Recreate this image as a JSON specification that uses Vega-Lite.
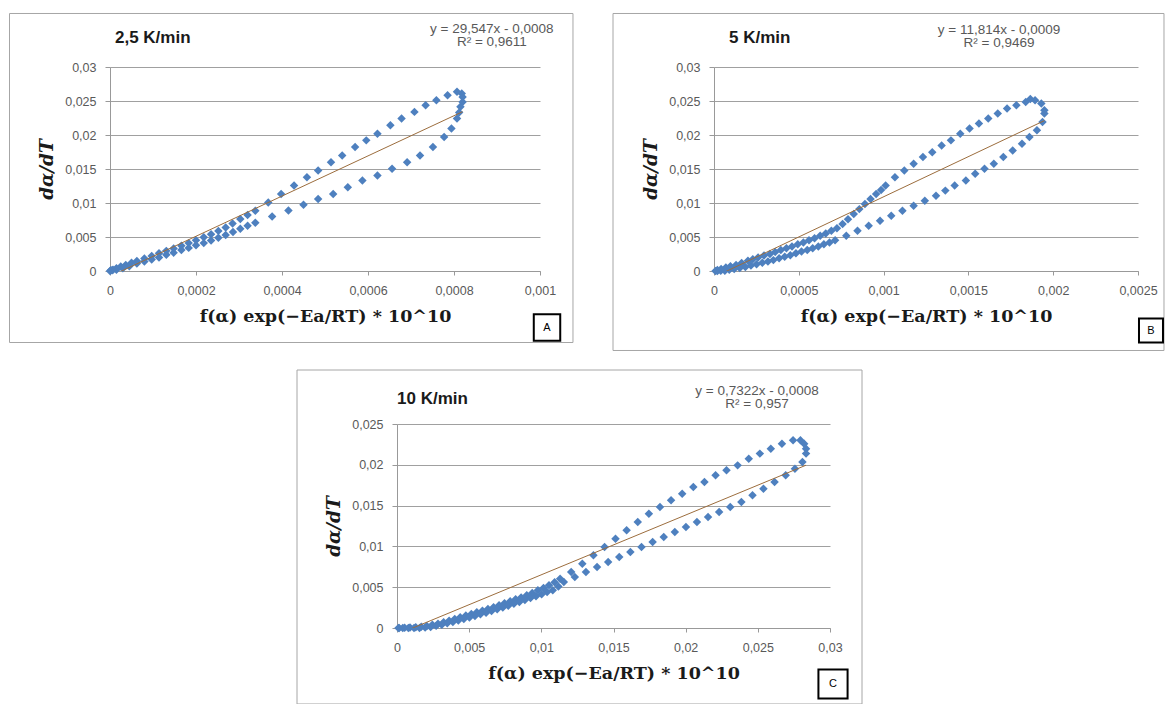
{
"$schema": "https://vega.github.io/schema/vega-lite/v6.json",
"background": "white",
"padding": {"left": 9, "top": 12, "right": 0, "bottom": 0},
"spacing": 18,
"config": {
 "view": {"stroke": null},
 "font": "Liberation Sans",
 "axis": {"labelFont": "Liberation Sans", "labelFontSize": 12.5, "labelColor": "#595959", "domainColor": "#999999", "tickColor": "#999999", "gridColor": "#a0a0a0", "titleFont": "DejaVu Serif", "titleFontSize": 17.5, "titleFontWeight": "bold", "titleColor": "#1a1a1a", "labelFlush": false, "labelOverlap": false},
 "axisX": {"grid": false, "tickSize": 4, "labelPadding": 9, "titlePadding": 11},
 "axisY": {"grid": true, "tickSize": 5, "labelPadding": 9, "titlePadding": 8, "titleFontStyle": "italic", "titleFontSize": 18.5}
},
"datasets": {
 "A": [
  {"x":0.000818,"y":0.0261},{"x":0.000807,"y":0.02635},{"x":0.000785,"y":0.02586},{"x":0.000759,"y":0.02512},{"x":0.000734,"y":0.02438},{"x":0.000708,"y":0.0234},{"x":0.000678,"y":0.02242},{"x":0.000652,"y":0.02143},{"x":0.000622,"y":0.0202},{"x":0.000596,"y":0.01921},{"x":0.00057,"y":0.01822},{"x":0.00054,"y":0.017},{"x":0.000514,"y":0.016},{"x":0.000484,"y":0.01478},{"x":0.000458,"y":0.01379},{"x":0.000428,"y":0.01256},{"x":0.000398,"y":0.01133},{"x":0.000368,"y":0.01009},{"x":0.000338,"y":0.00887},{"x":0.00032,"y":0.00825},{"x":0.000303,"y":0.00764},{"x":0.000285,"y":0.007},{"x":0.000269,"y":0.0064},{"x":0.000252,"y":0.0059},{"x":0.000235,"y":0.00542},{"x":0.000218,"y":0.00497},{"x":0.0002,"y":0.00453},{"x":0.000183,"y":0.0041},{"x":0.000166,"y":0.0037},{"x":0.000148,"y":0.0033},{"x":0.000131,"y":0.00296},{"x":0.000114,"y":0.0026},{"x":0.000097,"y":0.00222},{"x":0.00008,"y":0.00185},{"x":0.0000625,"y":0.00148},{"x":0.00005,"y":0.0012},{"x":0.0000367,"y":0.00089},{"x":0.000025,"y":0.00065},{"x":0.000015,"y":0.0004},{"x":0.000007,"y":0.0002},{"x":0.000002,"y":0.0001},
  {"x":0.00082,"y":0.0256},{"x":0.00082,"y":0.02485},{"x":0.000815,"y":0.02414},{"x":0.000812,"y":0.0233},{"x":0.000807,"y":0.02242},{"x":0.000794,"y":0.02094},{"x":0.000777,"y":0.0197},{"x":0.000751,"y":0.01822},{"x":0.000721,"y":0.017},{"x":0.000691,"y":0.016},{"x":0.000656,"y":0.01503},{"x":0.000622,"y":0.01404},{"x":0.000587,"y":0.0133},{"x":0.000553,"y":0.01231},{"x":0.000519,"y":0.01133},{"x":0.000484,"y":0.0106},{"x":0.00045,"y":0.00975},{"x":0.000415,"y":0.0089},{"x":0.000377,"y":0.008},{"x":0.000338,"y":0.0071},{"x":0.00032,"y":0.00665},{"x":0.000303,"y":0.0062},{"x":0.000286,"y":0.00575},{"x":0.000269,"y":0.0053},{"x":0.000252,"y":0.0049},{"x":0.000235,"y":0.0045},{"x":0.000218,"y":0.0041},{"x":0.0002,"y":0.0038},{"x":0.000183,"y":0.0034},{"x":0.000166,"y":0.0031},{"x":0.000148,"y":0.0027},{"x":0.000131,"y":0.0024},{"x":0.000114,"y":0.002},{"x":0.000097,"y":0.0017},{"x":0.00008,"y":0.0014},{"x":0.0000625,"y":0.0011},{"x":0.000045,"y":0.0007},{"x":0.00003,"y":0.0004},{"x":0.000015,"y":0.0002},{"x":0.000005,"y":0.0001},{"x":0,"y":0}
 ],
 "At": [{"x":0,"y":-0.0008},{"x":0.00082,"y":0.023429}],
 "B": [
  {"x":0.00193,"y":0.02463},{"x":0.001893,"y":0.02512},{"x":0.001865,"y":0.0253},{"x":0.001838,"y":0.02487},{"x":0.001783,"y":0.02438},{"x":0.001728,"y":0.02389},{"x":0.001673,"y":0.02315},{"x":0.001617,"y":0.02242},{"x":0.001562,"y":0.02168},{"x":0.001507,"y":0.02094},{"x":0.001452,"y":0.0202},{"x":0.001397,"y":0.01921},{"x":0.001342,"y":0.01847},{"x":0.001287,"y":0.01748},{"x":0.001232,"y":0.01675},{"x":0.001177,"y":0.01577},{"x":0.001122,"y":0.01478},{"x":0.001067,"y":0.0138},{"x":0.001012,"y":0.01256},{"x":0.000985,"y":0.0119},{"x":0.000956,"y":0.01133},{"x":0.000923,"y":0.0106},{"x":0.00089,"y":0.00985},{"x":0.000857,"y":0.0091},{"x":0.000824,"y":0.00838},{"x":0.00079,"y":0.0076},{"x":0.000758,"y":0.0069},{"x":0.000725,"y":0.0063},{"x":0.000692,"y":0.00591},{"x":0.000659,"y":0.0055},{"x":0.000626,"y":0.00517},{"x":0.000593,"y":0.0048},{"x":0.00056,"y":0.00453},{"x":0.000527,"y":0.0042},{"x":0.000494,"y":0.00394},{"x":0.00046,"y":0.0036},{"x":0.000427,"y":0.00335},{"x":0.000394,"y":0.0031},{"x":0.000361,"y":0.00281},{"x":0.00033,"y":0.0025},{"x":0.000295,"y":0.00227},{"x":0.00026,"y":0.002},{"x":0.000229,"y":0.00172},{"x":0.0002,"y":0.0015},{"x":0.000163,"y":0.00118},{"x":0.00013,"y":0.0009},{"x":0.000097,"y":0.00069},{"x":0.00007,"y":0.0005},{"x":0.000042,"y":0.0003},{"x":0.00002,"y":0.00015},{"x":0.000009,"y":0},
  {"x":0.001948,"y":0.02364},{"x":0.001948,"y":0.02315},{"x":0.001937,"y":0.02192},{"x":0.001904,"y":0.02069},{"x":0.00186,"y":0.0197},{"x":0.001816,"y":0.01872},{"x":0.001761,"y":0.01773},{"x":0.001706,"y":0.01675},{"x":0.00165,"y":0.01577},{"x":0.001595,"y":0.01503},{"x":0.00154,"y":0.01429},{"x":0.001485,"y":0.0133},{"x":0.001419,"y":0.01256},{"x":0.001364,"y":0.01182},{"x":0.001309,"y":0.01108},{"x":0.001243,"y":0.01034},{"x":0.001177,"y":0.00961},{"x":0.001111,"y":0.00887},{"x":0.001045,"y":0.00813},{"x":0.000979,"y":0.00739},{"x":0.000912,"y":0.00665},{"x":0.000846,"y":0.00591},{"x":0.00078,"y":0.00517},{"x":0.000714,"y":0.00453},{"x":0.000681,"y":0.0042},{"x":0.000648,"y":0.00394},{"x":0.000615,"y":0.0036},{"x":0.000582,"y":0.00335},{"x":0.00055,"y":0.0031},{"x":0.000516,"y":0.00286},{"x":0.000483,"y":0.0026},{"x":0.00045,"y":0.00232},{"x":0.000417,"y":0.0021},{"x":0.000384,"y":0.00187},{"x":0.00035,"y":0.0016},{"x":0.000318,"y":0.00138},{"x":0.000285,"y":0.0012},{"x":0.000251,"y":0.00099},{"x":0.000218,"y":0.0008},{"x":0.000185,"y":0.00059},{"x":0.000152,"y":0.00045},{"x":0.000119,"y":0.0003},{"x":0.00009,"y":0.00018},{"x":0.000064,"y":0.00005},{"x":0.00004,"y":0.00002},{"x":0.00002,"y":0}
 ],
 "Bt": [{"x":0,"y":-0.0009},{"x":0.001948,"y":0.022114}],
 "C": [
  {"x":0.02821,"y":0.02259},{"x":0.02795,"y":0.023},{"x":0.02744,"y":0.023},{"x":0.02667,"y":0.02259},{"x":0.0259,"y":0.02198},{"x":0.02514,"y":0.02137},{"x":0.02437,"y":0.02075},{"x":0.0236,"y":0.01993},{"x":0.02283,"y":0.01932},{"x":0.02207,"y":0.01871},{"x":0.0213,"y":0.01789},{"x":0.02053,"y":0.01728},{"x":0.01976,"y":0.01646},{"x":0.01899,"y":0.01565},{"x":0.01822,"y":0.01483},{"x":0.01745,"y":0.01401},{"x":0.01668,"y":0.01299},{"x":0.01591,"y":0.01197},{"x":0.01514,"y":0.01094},{"x":0.01438,"y":0.00993},{"x":0.01361,"y":0.00891},{"x":0.01284,"y":0.00788},{"x":0.01207,"y":0.00686},{"x":0.0113,"y":0.00604},
  {"x":0.01092,"y":0.0056},{"x":0.01053,"y":0.00523},{"x":0.01015,"y":0.0049},{"x":0.00976,"y":0.00462},{"x":0.00937,"y":0.0043},{"x":0.00899,"y":0.00401},{"x":0.0086,"y":0.00375},{"x":0.00822,"y":0.00352},{"x":0.00784,"y":0.00328},{"x":0.00745,"y":0.00303},{"x":0.00707,"y":0.0028},{"x":0.00669,"y":0.00254},{"x":0.0063,"y":0.00232},{"x":0.00592,"y":0.00212},{"x":0.00553,"y":0.00192},{"x":0.00515,"y":0.00172},{"x":0.00477,"y":0.00152},{"x":0.00438,"y":0.00131},{"x":0.004,"y":0.0011},{"x":0.00361,"y":0.0009},{"x":0.00323,"y":0.0007},{"x":0.00284,"y":0.00053},{"x":0.00245,"y":0.0004},{"x":0.00207,"y":0.00025},{"x":0.00168,"y":0.00015},{"x":0.0013,"y":0.0001},{"x":0.0009,"y":0.00005},{"x":0.00053,"y":0.00002},{"x":0.00015,"y":0},
  {"x":0.02834,"y":0.02198},{"x":0.02834,"y":0.02137},{"x":0.02809,"y":0.02034},{"x":0.02757,"y":0.01952},{"x":0.02693,"y":0.01871},{"x":0.02616,"y":0.01789},{"x":0.02539,"y":0.01707},{"x":0.02463,"y":0.01626},{"x":0.02386,"y":0.01544},{"x":0.02309,"y":0.01483},{"x":0.02232,"y":0.01422},{"x":0.02155,"y":0.0136},{"x":0.02078,"y":0.01299},{"x":0.02002,"y":0.01238},{"x":0.01925,"y":0.01176},{"x":0.01848,"y":0.01115},{"x":0.01771,"y":0.01054},{"x":0.01694,"y":0.00993},{"x":0.01617,"y":0.00931},{"x":0.0154,"y":0.0087},{"x":0.01463,"y":0.00809},{"x":0.01386,"y":0.00748},{"x":0.01309,"y":0.00686},{"x":0.01232,"y":0.00625},{"x":0.01156,"y":0.00564},
  {"x":0.01118,"y":0.0051},{"x":0.01079,"y":0.00462},{"x":0.0104,"y":0.0044},{"x":0.01002,"y":0.00413},{"x":0.00963,"y":0.0039},{"x":0.00925,"y":0.00368},{"x":0.00886,"y":0.00343},{"x":0.00848,"y":0.00319},{"x":0.0081,"y":0.00296},{"x":0.00771,"y":0.00273},{"x":0.00733,"y":0.0025},{"x":0.00694,"y":0.00229},{"x":0.00655,"y":0.00208},{"x":0.00617,"y":0.00188},{"x":0.00578,"y":0.00167},{"x":0.0054,"y":0.00147},{"x":0.00502,"y":0.00128},{"x":0.00463,"y":0.0011},{"x":0.00425,"y":0.00092},{"x":0.00387,"y":0.00074},{"x":0.00348,"y":0.00057},{"x":0.0031,"y":0.00041},{"x":0.00271,"y":0.00026},{"x":0.00233,"y":0.00012},{"x":0.00195,"y":0.00005},{"x":0.00156,"y":0},{"x":0.00118,"y":0},{"x":0.00079,"y":0},{"x":0.0004,"y":0},{"x":0.0001,"y":0}
 ],
 "Ct": [{"x":0,"y":-0.0008},{"x":0.02834,"y":0.019951}]
},
"vconcat": [
 {"hconcat": [
  {"width": 430, "height": 204,
   "resolve": {"axis": {"x": "independent", "y": "independent"}},
   "layer": [
    {"data": {"values": [{}]}, "mark": {"type": "rect", "filled": false, "color": "#a6a6a6", "strokeWidth": 1},
     "encoding": {"x": {"datum": -0.00023372, "type": "quantitative", "scale": {"domain": [0, 0.001], "nice": false}, "axis": null}, "x2": {"datum": 0.0010767},
                  "y": {"datum": 0.037868, "type": "quantitative", "scale": {"domain": [0, 0.03], "nice": false}, "axis": null}, "y2": {"datum": -0.010515}}},
    {"data": {"name": "A"}, "mark": {"type": "point", "shape": "diamond", "filled": true, "size": 72, "color": "#4e80bf", "opacity": 1},
     "encoding": {"x": {"field": "x", "type": "quantitative", "scale": {"domain": [0, 0.001], "nice": false}, "axis": {"orient": "bottom", "grid": false, "title": "f(α) exp(−Ea/RT) * 10^10", "values": [0, 0.0002, 0.0004, 0.0006, 0.0008, 0.001], "labelExpr": "replace(format(datum.value, '~g'), '.', ',')"}},
                  "y": {"field": "y", "type": "quantitative", "scale": {"domain": [0, 0.03], "nice": false}, "axis": {"orient": "left", "grid": true, "title": "dα/dT", "values": [0, 0.005, 0.01, 0.015, 0.02, 0.025, 0.03], "labelExpr": "replace(format(datum.value, '~g'), '.', ',')"}}}},
    {"data": {"name": "At"}, "mark": {"type": "line", "color": "#9c6d3d", "strokeWidth": 1, "clip": true},
     "encoding": {"x": {"field": "x", "type": "quantitative", "axis": null}, "y": {"field": "y", "type": "quantitative", "axis": null}}},
    {"data": {"values": [{}]}, "mark": {"type": "text", "text": "2,5 K/min", "fontSize": 17, "fontWeight": "bold", "color": "#1a1a1a", "baseline": "middle", "align": "left"},
     "encoding": {"x": {"datum": 0.0000116, "type": "quantitative", "axis": null}, "y": {"datum": 0.034265, "type": "quantitative", "axis": null}}},
    {"data": {"values": [{}]}, "mark": {"type": "text", "text": ["y = 29,547x - 0,0008", "R² = 0,9611"], "fontSize": 13.5, "color": "#595959", "lineHeight": 13, "baseline": "middle", "align": "center"},
     "encoding": {"x": {"datum": 0.000888, "type": "quantitative", "axis": null}, "y": {"datum": 0.03559, "type": "quantitative", "axis": null}}},
    {"data": {"values": [{}]}, "mark": {"type": "point", "shape": "square", "filled": false, "color": "#000000", "strokeWidth": 2, "size": 700, "opacity": 1},
     "encoding": {"x": {"datum": 0.0010163, "type": "quantitative", "axis": null}, "y": {"datum": -0.008309, "type": "quantitative", "axis": null}}},
    {"data": {"values": [{}]}, "mark": {"type": "text", "text": "A", "fontSize": 11, "color": "#000000", "baseline": "middle", "align": "center"},
     "encoding": {"x": {"datum": 0.0010163, "type": "quantitative", "axis": null}, "y": {"datum": -0.008309, "type": "quantitative", "axis": null}}}
   ]},
  {"width": 424, "height": 204,
   "resolve": {"axis": {"x": "independent", "y": "independent"}},
   "layer": [
    {"data": {"values": [{}]}, "mark": {"type": "rect", "filled": false, "color": "#a6a6a6", "strokeWidth": 1},
     "encoding": {"x": {"datum": -0.0005955, "type": "quantitative", "scale": {"domain": [0, 0.0025], "nice": false}, "axis": null}, "x2": {"datum": 0.0026533},
                  "y": {"datum": 0.037868, "type": "quantitative", "scale": {"domain": [0, 0.03], "nice": false}, "axis": null}, "y2": {"datum": -0.011691}}},
    {"data": {"name": "B"}, "mark": {"type": "point", "shape": "diamond", "filled": true, "size": 72, "color": "#4e80bf", "opacity": 1},
     "encoding": {"x": {"field": "x", "type": "quantitative", "scale": {"domain": [0, 0.0025], "nice": false}, "axis": {"orient": "bottom", "grid": false, "title": "f(α) exp(−Ea/RT) * 10^10", "values": [0, 0.0005, 0.001, 0.0015, 0.002, 0.0025], "labelExpr": "replace(format(datum.value, '~g'), '.', ',')"}},
                  "y": {"field": "y", "type": "quantitative", "scale": {"domain": [0, 0.03], "nice": false}, "axis": {"orient": "left", "grid": true, "title": "dα/dT", "values": [0, 0.005, 0.01, 0.015, 0.02, 0.025, 0.03], "labelExpr": "replace(format(datum.value, '~g'), '.', ',')"}}}},
    {"data": {"name": "Bt"}, "mark": {"type": "line", "color": "#9c6d3d", "strokeWidth": 1, "clip": true},
     "encoding": {"x": {"field": "x", "type": "quantitative", "axis": null}, "y": {"field": "y", "type": "quantitative", "axis": null}}},
    {"data": {"values": [{}]}, "mark": {"type": "text", "text": "5 K/min", "fontSize": 17, "fontWeight": "bold", "color": "#1a1a1a", "baseline": "middle", "align": "left"},
     "encoding": {"x": {"datum": 0.0000884, "type": "quantitative", "axis": null}, "y": {"datum": 0.034265, "type": "quantitative", "axis": null}}},
    {"data": {"values": [{}]}, "mark": {"type": "text", "text": ["y = 11,814x - 0,0009", "R² = 0,9469"], "fontSize": 13.5, "color": "#595959", "lineHeight": 13, "baseline": "middle", "align": "center"},
     "encoding": {"x": {"datum": 0.0016804, "type": "quantitative", "axis": null}, "y": {"datum": 0.035368, "type": "quantitative", "axis": null}}},
    {"data": {"values": [{}]}, "mark": {"type": "point", "shape": "square", "filled": false, "color": "#000000", "strokeWidth": 2, "size": 576, "opacity": 1},
     "encoding": {"x": {"datum": 0.0025766, "type": "quantitative", "axis": null}, "y": {"datum": -0.00875, "type": "quantitative", "axis": null}}},
    {"data": {"values": [{}]}, "mark": {"type": "text", "text": "B", "fontSize": 11, "color": "#000000", "baseline": "middle", "align": "center"},
     "encoding": {"x": {"datum": 0.0025766, "type": "quantitative", "axis": null}, "y": {"datum": -0.00875, "type": "quantitative", "axis": null}}}
   ]}
 ], "spacing": 38},
 {"hconcat": [
  {"width": 168, "height": 10, "data": {"values": []}, "mark": "point"},
  {"width": 433, "height": 204,
   "resolve": {"axis": {"x": "independent", "y": "independent"}},
   "layer": [
    {"data": {"values": [{}]}, "mark": {"type": "rect", "filled": false, "color": "#a6a6a6", "strokeWidth": 1},
     "encoding": {"x": {"datum": -0.0069284, "type": "quantitative", "scale": {"domain": [0, 0.03], "nice": false}, "axis": null}, "x2": {"datum": 0.0322171},
                  "y": {"datum": 0.0316176, "type": "quantitative", "scale": {"domain": [0, 0.025], "nice": false}, "axis": null}, "y2": {"datum": -0.0093137}}},
    {"data": {"name": "C"}, "mark": {"type": "point", "shape": "diamond", "filled": true, "size": 72, "color": "#4e80bf", "opacity": 1},
     "encoding": {"x": {"field": "x", "type": "quantitative", "scale": {"domain": [0, 0.03], "nice": false}, "axis": {"orient": "bottom", "grid": false, "title": "f(α) exp(−Ea/RT) * 10^10", "values": [0, 0.005, 0.01, 0.015, 0.02, 0.025, 0.03], "labelExpr": "replace(format(datum.value, '~g'), '.', ',')"}},
                  "y": {"field": "y", "type": "quantitative", "scale": {"domain": [0, 0.025], "nice": false}, "axis": {"orient": "left", "grid": true, "title": "dα/dT", "values": [0, 0.005, 0.01, 0.015, 0.02, 0.025], "labelExpr": "replace(format(datum.value, '~g'), '.', ',')"}}}},
    {"data": {"name": "Ct"}, "mark": {"type": "line", "color": "#9c6d3d", "strokeWidth": 1, "clip": true},
     "encoding": {"x": {"field": "x", "type": "quantitative", "axis": null}, "y": {"field": "y", "type": "quantitative", "axis": null}}},
    {"data": {"values": [{}]}, "mark": {"type": "text", "text": "10 K/min", "fontSize": 17, "fontWeight": "bold", "color": "#1a1a1a", "baseline": "middle", "align": "left"},
     "encoding": {"x": {"datum": 0, "type": "quantitative", "axis": null}, "y": {"datum": 0.028064, "type": "quantitative", "axis": null}}},
    {"data": {"values": [{}]}, "mark": {"type": "text", "text": ["y = 0,7322x - 0,0008", "R² = 0,957"], "fontSize": 13.5, "color": "#595959", "lineHeight": 13, "baseline": "middle", "align": "center"},
     "encoding": {"x": {"datum": 0.024942, "type": "quantitative", "axis": null}, "y": {"datum": 0.029044, "type": "quantitative", "axis": null}}},
    {"data": {"values": [{}]}, "mark": {"type": "point", "shape": "square", "filled": false, "color": "#000000", "strokeWidth": 2, "size": 850, "opacity": 1},
     "encoding": {"x": {"datum": 0.030208, "type": "quantitative", "axis": null}, "y": {"datum": -0.006863, "type": "quantitative", "axis": null}}},
    {"data": {"values": [{}]}, "mark": {"type": "text", "text": "C", "fontSize": 11, "color": "#000000", "baseline": "middle", "align": "center"},
     "encoding": {"x": {"datum": 0.030208, "type": "quantitative", "axis": null}, "y": {"datum": -0.006863, "type": "quantitative", "axis": null}}}
   ]}
 ], "spacing": 18}
]
}
